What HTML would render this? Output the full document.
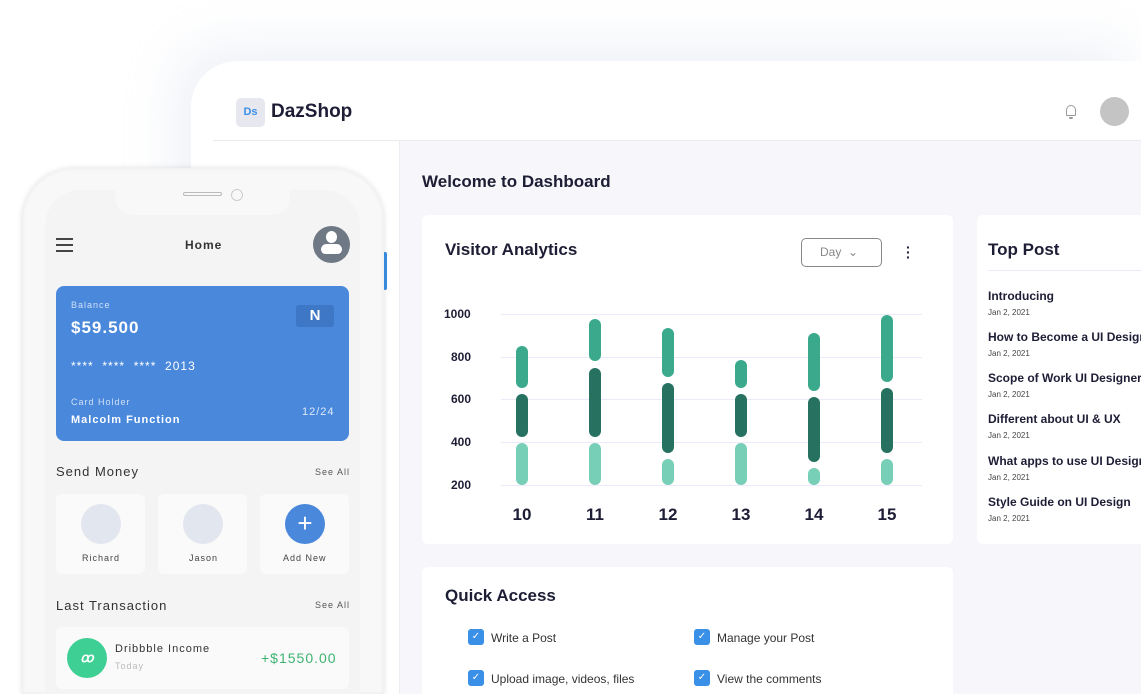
<!DOCTYPE html>
<html><head><meta charset="utf-8"><style>
*{margin:0;padding:0;box-sizing:border-box}
html,body{width:1141px;height:694px;overflow:hidden}
body{background:#fff;position:relative;font-family:"Liberation Sans",sans-serif;color:#1d1d35}
.a{position:absolute}
.win{left:191px;top:61px;width:950px;height:633px;background:#fff;border-radius:46px 0 0 0;box-shadow:-15px -15px 50px rgba(200,210,230,.3)}
.main{left:399px;top:141px;width:742px;height:553px;background:#f7f7fb;border-left:1px solid #ececf2}
.card{background:#fff;border-radius:6px}
.t{white-space:nowrap}
.bar{position:absolute;width:12px;border-radius:6px}
.l{background:#78cfb8}.m{background:#3aa98c}.d{background:#277160}
.grid{position:absolute;left:501px;width:421px;height:1px;background:#ebe9fa}
.yl{position:absolute;left:444px;font-size:12px;font-weight:bold;color:#1d1d35}
.xl{position:absolute;font-size:17px;font-weight:bold;width:40px;text-align:center;top:505px}
.pt{position:absolute;left:988px;font-size:12px;font-weight:bold;white-space:nowrap}
.pd{position:absolute;left:988px;font-size:8px;color:#444}
.cb{position:absolute;width:16px;height:16px;border-radius:3px;background:#3a8fe6;color:#fff;font-size:10px;text-align:center;line-height:16px}
.ql{position:absolute;font-size:12px;color:#333;white-space:nowrap}
.phone{left:22px;top:168px;width:362px;height:526px;background:#f8f8f8;border-radius:52px 52px 0 0;box-shadow:0 0 6px rgba(0,0,0,.12),inset 0 0 4px rgba(0,0,0,.06)}
.screen{left:45px;top:190px;width:315px;height:504px;background:#f4f4f4;border-radius:36px 36px 0 0}
.sm{position:absolute;background:#fafafa;border-radius:6px}
</style></head><body>
<div class="a win"></div>
<div class="a" style="left:236px;top:98px;width:29px;height:29px;background:#e6e7ef;border-radius:5px;color:#3a8fe6;font-size:11px;font-weight:bold;text-align:center;line-height:29px">Ds</div>
<div class="a t" style="left:271px;top:101px;font-size:19px;font-weight:bold;color:#1d1d35">DazShop</div>
<div class="a" style="left:213px;top:140px;width:928px;height:1px;background:#ebebef"></div>
<div class="a" style="left:1066px;top:105px;width:10px;height:11px;border:1.5px solid #999;border-radius:5px 5px 1px 1px"></div>
<div class="a" style="left:1069px;top:117px;width:4px;height:2px;background:#999;border-radius:2px"></div>
<div class="a" style="left:1100px;top:97px;width:29px;height:29px;border-radius:50%;background:#c4c4c4"></div>
<div class="a main"></div>
<div class="a t" style="left:422px;top:172px;font-size:17px;font-weight:bold">Welcome to Dashboard</div>
<div class="a card" style="left:422px;top:215px;width:531px;height:329px"></div>
<div class="a t" style="left:445px;top:240px;font-size:17px;font-weight:bold">Visitor Analytics</div>
<div class="a" style="left:801px;top:238px;width:81px;height:29px;border:1.5px solid #888;border-radius:5px;font-size:12px;color:#888;line-height:26px;padding-left:18px">Day &nbsp;&#8964;</div>
<div class="a" style="left:906px;top:245px;font-size:14px;font-weight:bold;line-height:5px">·<br>·<br>·</div>
<div class="grid" style="top:314px"></div><div class="grid" style="top:357px"></div><div class="grid" style="top:399px"></div><div class="grid" style="top:442px"></div><div class="grid" style="top:485px"></div>
<div class="yl" style="top:307px">1000</div><div class="yl" style="top:350px;left:451px">800</div><div class="yl" style="top:392px;left:451px">600</div><div class="yl" style="top:435px;left:451px">400</div><div class="yl" style="top:478px;left:451px">200</div>
<div class="bar m" style="left:516px;top:346px;height:42px"></div><div class="bar d" style="left:516px;top:394px;height:43px"></div><div class="bar l" style="left:516px;top:443px;height:42px"></div>
<div class="bar m" style="left:589px;top:319px;height:42px"></div><div class="bar d" style="left:589px;top:368px;height:69px"></div><div class="bar l" style="left:589px;top:443px;height:42px"></div>
<div class="bar m" style="left:662px;top:328px;height:49px"></div><div class="bar d" style="left:662px;top:383px;height:70px"></div><div class="bar l" style="left:662px;top:459px;height:26px"></div>
<div class="bar m" style="left:735px;top:360px;height:28px"></div><div class="bar d" style="left:735px;top:394px;height:43px"></div><div class="bar l" style="left:735px;top:443px;height:42px"></div>
<div class="bar m" style="left:808px;top:333px;height:58px"></div><div class="bar d" style="left:808px;top:397px;height:65px"></div><div class="bar l" style="left:808px;top:468px;height:17px"></div>
<div class="bar m" style="left:881px;top:315px;height:67px"></div><div class="bar d" style="left:881px;top:388px;height:65px"></div><div class="bar l" style="left:881px;top:459px;height:26px"></div>
<div class="xl" style="left:502px">10</div><div class="xl" style="left:575px">11</div><div class="xl" style="left:648px">12</div><div class="xl" style="left:721px">13</div><div class="xl" style="left:794px">14</div><div class="xl" style="left:867px">15</div>
<div class="a card" style="left:977px;top:215px;width:200px;height:329px"></div>
<div class="a t" style="left:988px;top:240px;font-size:17px;font-weight:bold">Top Post</div>
<div class="a" style="left:988px;top:270px;width:160px;height:1px;background:#ebe9fa"></div>
<div class="pt" style="top:289px">Introducing</div><div class="pd" style="top:308px">Jan 2, 2021</div>
<div class="pt" style="top:330px">How to Become a UI Designer</div><div class="pd" style="top:349px">Jan 2, 2021</div>
<div class="pt" style="top:371px">Scope of Work UI Designer</div><div class="pd" style="top:390px">Jan 2, 2021</div>
<div class="pt" style="top:412px">Different about UI &amp; UX</div><div class="pd" style="top:431px">Jan 2, 2021</div>
<div class="pt" style="top:454px">What apps to use UI Designer</div><div class="pd" style="top:473px">Jan 2, 2021</div>
<div class="pt" style="top:495px">Style Guide on UI Design</div><div class="pd" style="top:514px">Jan 2, 2021</div>
<div class="a card" style="left:422px;top:567px;width:531px;height:127px;border-radius:6px 6px 0 0"></div>
<div class="a t" style="left:445px;top:586px;font-size:17px;font-weight:bold">Quick Access</div>
<div class="cb" style="left:468px;top:629px">✓</div><div class="ql" style="left:491px;top:631px">Write a Post</div>
<div class="cb" style="left:694px;top:629px">✓</div><div class="ql" style="left:717px;top:631px">Manage your Post</div>
<div class="cb" style="left:468px;top:670px">✓</div><div class="ql" style="left:491px;top:672px">Upload image, videos, files</div>
<div class="cb" style="left:694px;top:670px">✓</div><div class="ql" style="left:717px;top:672px">View the comments</div>
<div class="a" style="left:383px;top:252px;width:4px;height:38px;background:#3a8fe6;border-radius:2px"></div>
<div class="a phone"></div>
<div class="a screen"></div>
<div class="a" style="left:115px;top:188px;width:175px;height:27px;background:#f8f8f8;border-radius:0 0 18px 18px"></div>
<div class="a" style="left:183px;top:192px;width:39px;height:4px;border:1px solid #bbb;border-radius:3px"></div>
<div class="a" style="left:231px;top:189px;width:12px;height:12px;border:1.5px solid #ccc;border-radius:50%"></div>
<div class="a" style="left:56px;top:238px;width:17px;height:2px;background:#444;box-shadow:0 6px 0 #444,0 12px 0 #444"></div>
<div class="a t" style="left:185px;top:238px;font-size:12px;font-weight:bold;color:#333;letter-spacing:1px">Home</div>
<div class="a" style="left:313px;top:226px;width:37px;height:37px;border-radius:50%;background:#6f7885"></div>
<div class="a" style="left:326px;top:231px;width:11px;height:12px;border-radius:50%;background:#fff"></div>
<div class="a" style="left:321px;top:244px;width:21px;height:10px;border-radius:10px 10px 8px 8px;background:#fff"></div>
<div class="a" style="left:56px;top:286px;width:293px;height:155px;background:#4a88dc;border-radius:8px"></div>
<div class="a t" style="left:71px;top:300px;font-size:9px;color:#cfe0f7;letter-spacing:1px">Balance</div>
<div class="a t" style="left:71px;top:318px;font-size:17px;font-weight:bold;color:#fff;letter-spacing:1px">$59.500</div>
<div class="a" style="left:296px;top:305px;width:38px;height:22px;background:#3e77c6;border-radius:3px;color:#fff;font-weight:bold;font-size:15px;text-align:center;line-height:22px">N</div>
<div class="a t" style="left:71px;top:359px;font-size:12px;color:#fff;letter-spacing:1px">**** &nbsp;**** &nbsp;**** &nbsp;2013</div>
<div class="a t" style="left:71px;top:397px;font-size:9px;color:#cfe0f7;letter-spacing:1px">Card Holder</div>
<div class="a t" style="left:71px;top:414px;font-size:11px;font-weight:bold;color:#fff;letter-spacing:1px">Malcolm Function</div>
<div class="a t" style="left:302px;top:406px;font-size:11px;color:#dde8f8;letter-spacing:1px">12/24</div>
<div class="a t" style="left:56px;top:464px;font-size:13px;color:#333;letter-spacing:1px">Send Money</div>
<div class="a t" style="left:315px;top:467px;font-size:9px;color:#555;letter-spacing:1px">See All</div>
<div class="sm" style="left:56px;top:494px;width:89px;height:80px"></div>
<div class="sm" style="left:158px;top:494px;width:89px;height:80px"></div>
<div class="sm" style="left:260px;top:494px;width:89px;height:80px"></div>
<div class="a" style="left:81px;top:504px;width:40px;height:40px;border-radius:50%;background:#e2e6ee"></div>
<div class="a" style="left:183px;top:504px;width:40px;height:40px;border-radius:50%;background:#e2e6ee"></div>
<div class="a" style="left:285px;top:504px;width:40px;height:40px;border-radius:50%;background:#4a88dc;color:#fff;font-size:26px;text-align:center;line-height:38px">+</div>
<div class="a t" style="left:82px;top:553px;font-size:9px;color:#444;letter-spacing:1px">Richard</div>
<div class="a t" style="left:189px;top:553px;font-size:9px;color:#444;letter-spacing:1px">Jason</div>
<div class="a t" style="left:283px;top:553px;font-size:9px;color:#444;letter-spacing:1px">Add New</div>
<div class="a t" style="left:56px;top:598px;font-size:13px;color:#333;letter-spacing:1px">Last Transaction</div>
<div class="a t" style="left:315px;top:600px;font-size:9px;color:#555;letter-spacing:1px">See All</div>
<div class="sm" style="left:56px;top:627px;width:293px;height:62px"></div>
<div class="a" style="left:67px;top:638px;width:40px;height:40px;border-radius:50%;background:#3ecf94;color:#fff;font-size:13px;font-weight:bold;text-align:center;line-height:40px;font-style:italic">ꝏ</div>
<div class="a t" style="left:115px;top:643px;font-size:11px;color:#333;letter-spacing:1px">Dribbble Income</div>
<div class="a t" style="left:115px;top:661px;font-size:9px;color:#bbb;letter-spacing:1px">Today</div>
<div class="a t" style="left:261px;top:650px;font-size:14px;color:#3cb371;letter-spacing:1px">+$1550.00</div>
</body></html>
